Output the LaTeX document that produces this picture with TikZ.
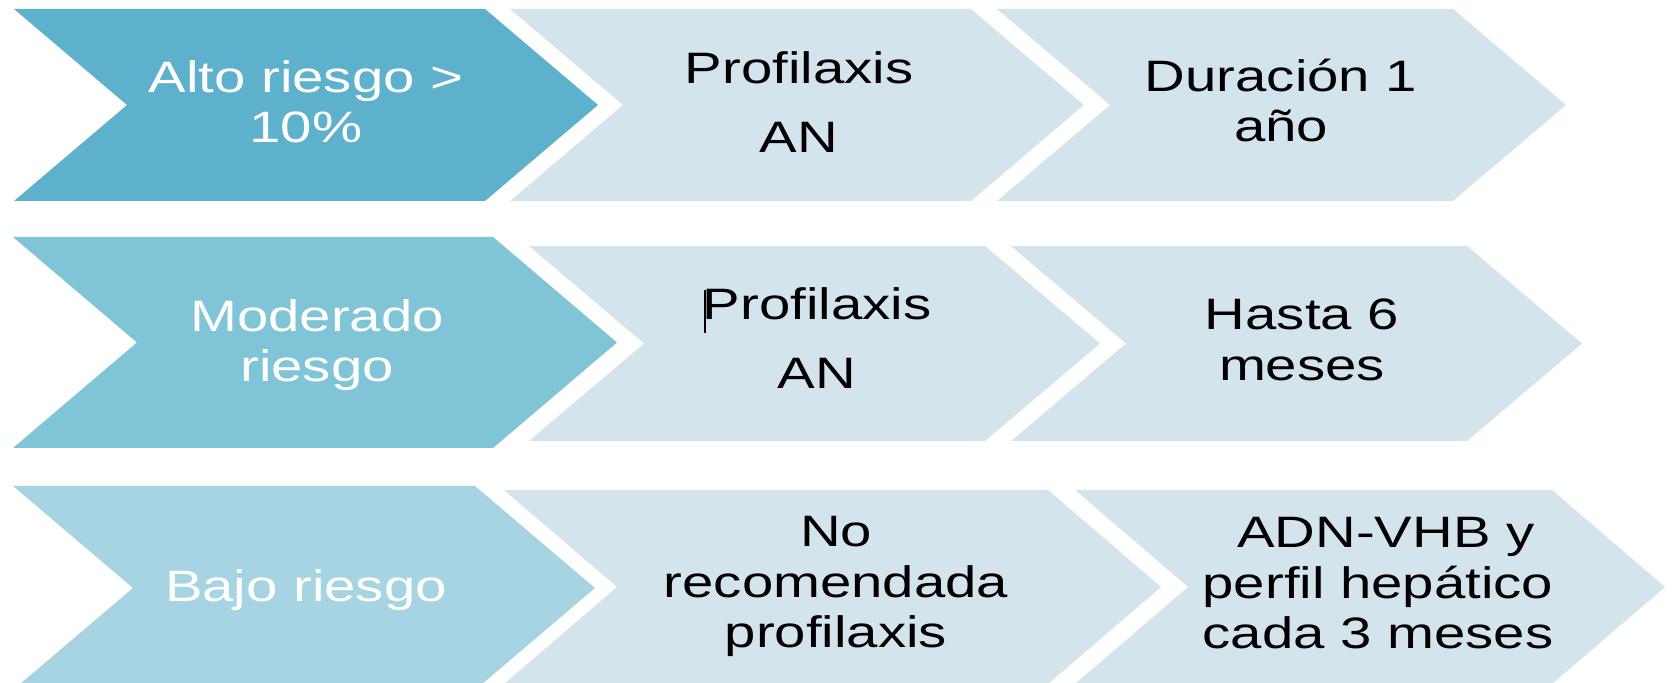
\documentclass[tikz,border=0pt]{standalone}
\usepackage{fontspec}
\setmainfont[FakeStretch=1.28]{Liberation Sans}
\definecolor{cdark}{RGB}{94,177,205}
\definecolor{cmid}{RGB}{128,196,216}
\definecolor{clight}{RGB}{166,212,227}
\definecolor{cpale}{RGB}{212,228,236}
\newcommand\chevshape[6]{% #1 xl, #2 xr, #3 top, #4 bottom, #5 depth, #6 style
  \path[#6] (#1,#3) -- (#2,#3) -- ({#2+#5},{(#3+#4)/2}) -- (#2,#4) -- (#1,#4) -- ({#1+#5},{(#3+#4)/2}) -- cycle;}
\begin{document}
\begin{tikzpicture}[x=0.5pt,y=-0.5pt,
  lbl/.style={align=center, inner sep=0pt, font=\fontsize{22pt}{25.25pt}\selectfont},
  head/.style={lbl, text=white},
  body/.style={lbl, text=black},
  darkchev/.style={fill=cdark},
  midchev/.style={fill=cmid},
  lightchev/.style={fill=clight},
  palechev/.style={fill=cpale}]
\useasboundingbox (0,0) rectangle (1672,683);
\clip (0,0) rectangle (1672,683);
\fill[white] (0,0) rectangle (1672,683);
% row 1
\chevshape{14}{485}{9}{201}{113}{darkchev}
\chevshape{510}{971}{9}{201}{113}{palechev}
\chevshape{997}{1453}{9}{201}{113}{palechev}
% row 2
\chevshape{13}{493}{237}{448}{124}{midchev}
\chevshape{529}{985}{246}{441}{115}{palechev}
\chevshape{1011}{1467}{246}{441}{115}{palechev}
% row 3
\chevshape{13}{475}{486}{690}{120}{lightchev}
\chevshape{504}{1048}{490}{684}{113}{palechev}
\chevshape{1075}{1552}{490}{684}{113}{palechev}
% texts
\node[head] (alto) at (306,101.6) {Alto riesgo >\\10\%};
\node[body] (prof1) at (799,102) {Profilaxis\\[9.25pt]AN};
\node[body] (dur) at (1281,100.7) {Duración 1\\año};
\node[head] (mod) at (317,345) {Moderado\\riesgo};
\node[body] (prof2) at (817,338.5) {Profilaxis\\[9.25pt]AN};
\node[body] (hasta) at (1302,340) {Hasta 6\\meses};
\node[head] (bajo) at (306,589.7) {Bajo riesgo};
\node[body] (norec) at (836,586.5) {No\\recomendada\\profilaxis};
\node[body] (adn) at (1378,583.3) {\ ADN-VHB y\\perfil hepático\\cada 3 meses};
\draw[black, line width=1pt] (705,290) -- (705,333);
\end{tikzpicture}
\end{document}
